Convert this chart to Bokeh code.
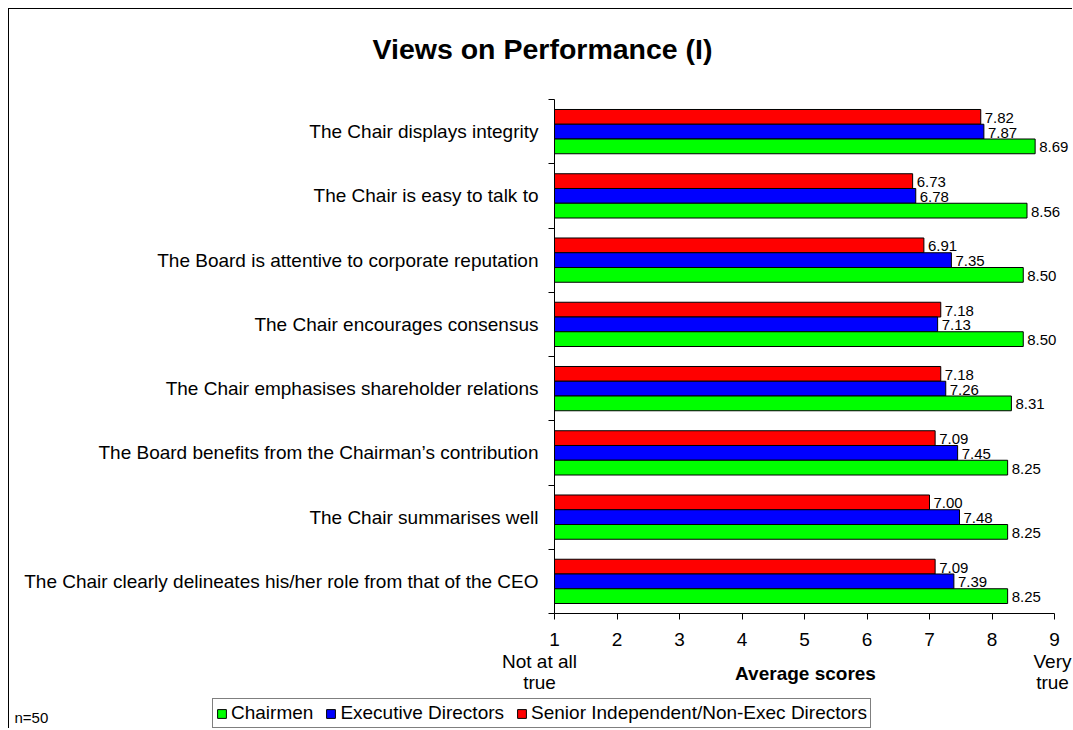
from bokeh.plotting import figure
from bokeh.models import ColumnDataSource, FixedTicker, LabelSet, Legend, LegendItem, Range1d
from bokeh.transform import dodge
from bokeh.core.properties import value
from bokeh.embed import file_html
from bokeh.resources import INLINE

# ---------------- data ----------------
categories = [
    "The Chair displays integrity",
    "The Chair is easy to talk to",
    "The Board is attentive to corporate reputation",
    "The Chair encourages consensus",
    "The Chair emphasises shareholder relations",
    "The Board benefits from the Chairman\u2019s contribution",
    "The Chair summarises well",
    "The Chair clearly delineates his/her role from that of the CEO",
]
chairmen = [8.69, 8.56, 8.50, 8.50, 8.31, 8.25, 8.25, 8.25]
executive = [7.87, 6.78, 7.35, 7.13, 7.26, 7.45, 7.48, 7.39]
senior = [7.82, 6.73, 6.91, 7.18, 7.18, 7.09, 7.00, 7.09]
series_names = ["Chairmen", "Executive Directors", "Senior Independent/Non-Exec Directors"]
x_ticks = [1, 2, 3, 4, 5, 6, 7, 8, 9]
title_text = "Views on Performance (I)"
x_title = "Average scores"
low_label = ["Not at all", "true"]
high_label = ["Very", "true"]
note_text = "n=50"

# ---------------- style / layout (page pixels) ----------------
FONT = "Liberation Sans"
FS = "19px"
C_GREEN, C_BLUE, C_RED = "#00FF00", "#0000FF", "#FF0000"
BW = 0.2296
OX, OY = 9, 9                 # canvas origin on the page (margin + border)
W, H = 1073 - OX, 720         # canvas size
AX_L, AX_R = 554, 1054        # page x of value 1 and 9
AX_T, AX_B = 99, 613          # page y of top and bottom of category band

n = len(categories)
ux = (AX_R - AX_L) / (x_ticks[-1] - x_ticks[0])
uy = (AX_B - AX_T) / n

def X(px):
    return x_ticks[0] + (px - AX_L) / ux

def Y(py):
    return 0.5 - (py - AX_B) / uy

ypos = list(range(n, 0, -1))

source = ColumnDataSource(dict(
    y=ypos,
    chair=chairmen, exe=executive, sen=senior,
    chair_l=[f"{v:.2f}" for v in chairmen],
    exe_l=[f"{v:.2f}" for v in executive],
    sen_l=[f"{v:.2f}" for v in senior],
))

p = figure(width=W, height=H,
           x_range=Range1d(X(OX), X(OX + W)), y_range=Range1d(Y(OY + H), Y(OY)),
           output_backend="svg", toolbar_location=None,
           min_border_left=0, min_border_right=0, min_border_top=0, min_border_bottom=0,
           styles={"margin-left": "8px", "margin-top": "8px",
                   "border-left": "1px solid black", "border-top": "1px solid black"})
p.outline_line_color = None
p.background_fill_color = "white"
p.border_fill_color = "white"
p.xgrid.visible = False
p.ygrid.visible = False

r_sen = p.hbar(y=dodge("y", BW), left=x_ticks[0], right="sen", height=BW, source=source,
               fill_color=C_RED, line_color="black", line_width=1)
r_exe = p.hbar(y=dodge("y", 0), left=x_ticks[0], right="exe", height=BW, source=source,
               fill_color=C_BLUE, line_color="black", line_width=1)
r_chair = p.hbar(y=dodge("y", -BW), left=x_ticks[0], right="chair", height=BW, source=source,
                 fill_color=C_GREEN, line_color="black", line_width=1)

for fld, off in (("sen", BW), ("exe", 0), ("chair", -BW)):
    p.add_layout(LabelSet(x=fld, y=dodge("y", off), text=fld + "_l", source=source,
                          x_offset=4, y_offset=-1, text_baseline="middle", text_align="left",
                          text_font=value(FONT), text_font_size=value("15px"),
                          text_color="black"))

# x axis, pinned to the bottom of the category band
xa = p.xaxis[0]
xa.fixed_location = 0.5
xa.bounds = (x_ticks[0], x_ticks[-1])
xa.ticker = FixedTicker(ticks=x_ticks)
xa.major_tick_out = 6
xa.major_tick_in = 0
xa.minor_tick_out = 0
xa.minor_tick_in = 0
xa.axis_line_color = "black"
xa.major_tick_line_color = "black"
xa.major_label_text_font = FONT
xa.major_label_text_font_size = FS
xa.major_label_text_color = "black"
xa.major_label_standoff = 13

# y axis (categories), pinned at value 1
ya = p.yaxis[0]
ya.fixed_location = x_ticks[0]
ya.bounds = (0.5, n + 0.5)
ya.ticker = FixedTicker(ticks=ypos, minor_ticks=[i + 0.5 for i in range(n + 1)])
ya.major_label_overrides = {y: c for y, c in zip(ypos, categories)}
ya.major_tick_out = 0
ya.major_tick_in = 0
ya.minor_tick_out = 6
ya.minor_tick_in = 0
ya.minor_tick_line_color = "black"
ya.axis_line_color = "black"
ya.major_label_text_font = FONT
ya.major_label_text_font_size = FS
ya.major_label_text_color = "black"
ya.major_label_standoff = 10

def txt(px, py, text, size, bold=False, align="center"):
    p.text(x=[X(px)], y=[Y(py)], text=[text], text_font=value(FONT), text_font_size=value(size),
           text_font_style="bold" if bold else "normal", text_color="black",
           text_align=align, text_baseline="middle")

txt(542, 48, title_text, "28.5px", bold=True)
txt(539, 661, low_label[0], FS)
txt(539, 682, low_label[1], FS)
txt(1052, 661, high_label[0], FS)
txt(1052, 682, high_label[1], FS)
txt(805, 673, x_title, FS, bold=True)
txt(14, 717, note_text, "15px", align="left")

legend = Legend(items=[
    LegendItem(label=series_names[0], renderers=[r_chair]),
    LegendItem(label=series_names[1], renderers=[r_exe]),
    LegendItem(label=series_names[2], renderers=[r_sen]),
], orientation="horizontal", location=(212 - OX, (OY + H) - 728))
legend.label_text_font = FONT
legend.label_text_font_size = FS
legend.label_text_color = "black"
legend.border_line_color = "black"
legend.border_line_width = 1
legend.background_fill_color = "white"
legend.background_fill_alpha = 1
legend.padding = 3
legend.margin = 0
legend.spacing = 12
legend.glyph_width = 11
legend.glyph_height = 11
legend.label_standoff = 4
legend.label_height = 18
p.add_layout(legend)

open("out.html", "w").write(file_html(p, INLINE))
